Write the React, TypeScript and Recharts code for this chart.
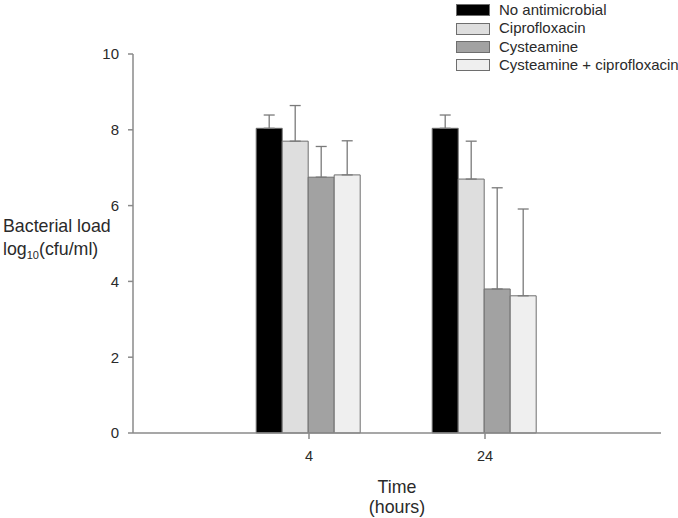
import { Bar, BarChart, ErrorBar, XAxis, YAxis } from 'recharts';

const times = ['4', '24'];
const noAntimicrobial = [8.04, 8.04];
const noAntimicrobialErr = [0.35, 0.35];
const ciprofloxacin = [7.7, 6.7];
const ciprofloxacinErr = [0.94, 1.0];
const cysteamine = [6.75, 3.8];
const cysteamineErr = [0.81, 2.67];
const combo = [6.81, 3.62];
const comboErr = [0.9, 2.29];
const yTicks = [0, 2, 4, 6, 8, 10];

const series = [
  { key: 'none', name: 'No antimicrobial', fill: '#000000' },
  { key: 'cipro', name: 'Ciprofloxacin', fill: '#dedede' },
  { key: 'cyst', name: 'Cysteamine', fill: '#a2a2a2' },
  { key: 'combo', name: 'Cysteamine + ciprofloxacin', fill: '#efefef' },
];

const data = times.map((t, i) => ({
  time: t,
  none: noAntimicrobial[i],
  noneErr: [0, noAntimicrobialErr[i]],
  cipro: ciprofloxacin[i],
  ciproErr: [0, ciprofloxacinErr[i]],
  cyst: cysteamine[i],
  cystErr: [0, cysteamineErr[i]],
  combo: combo[i],
  comboErr: [0, comboErr[i]],
}));

const FONT = '"Liberation Sans", Arial, sans-serif';
const TEXT = '#2a2a2a';
const AXIS = '#8a8a8a';

function YLabel() {
  return (
    <g fontFamily={FONT} fill={TEXT} fontSize={17.8}>
      <text x={3} y={232}>Bacterial load</text>
      <text x={3} y={255}>
        log<tspan fontSize={11} dy={4}>10</tspan>
        <tspan dy={-4}>(cfu/ml)</tspan>
      </text>
    </g>
  );
}

function XLabel() {
  return (
    <g fontFamily={FONT} fill={TEXT} fontSize={17.8} textAnchor="middle">
      <text x={397} y={493}>Time</text>
      <text x={397} y={513}>(hours)</text>
    </g>
  );
}

export default function App() {
  return (
    <div style={{ position: 'absolute', left: 0, top: 0, width: 678, height: 518, background: '#fff' }}>
      <BarChart
        width={678}
        height={518}
        data={data}
        margin={{ top: 54, right: 17, bottom: 0, left: 0 }}
        barCategoryGap="20%"
        barGap={0}
      >
        <XAxis
          dataKey="time"
          height={85}
          padding={{ left: 88, right: 88 }}
          stroke={AXIS}
          strokeWidth={1.5}
          tickSize={6}
          tickMargin={12}
          tick={{ fill: TEXT, fontSize: 14.5, fontFamily: FONT }}
          label={<XLabel />}
        />
        <YAxis
          width={133}
          domain={[0, 10]}
          ticks={yTicks}
          stroke={AXIS}
          strokeWidth={1.5}
          tickSize={5}
          tickMargin={9}
          tick={{ fill: TEXT, fontSize: 15, fontFamily: FONT }}
          label={<YLabel />}
        />
        {series.map((s) => (
          <Bar
            key={s.key}
            dataKey={s.key}
            name={s.name}
            fill={s.fill}
            stroke="#6e6e6e"
            strokeWidth={1}
            isAnimationActive={false}
          >
            <ErrorBar dataKey={`${s.key}Err`} width={5.5} stroke="#7a7a7a" strokeWidth={1.3} />
          </Bar>
        ))}
      </BarChart>
      <div
        style={{
          position: 'absolute',
          left: 456,
          top: 1,
          fontFamily: FONT,
          fontSize: 15,
          color: TEXT,
          lineHeight: '18.4px',
          whiteSpace: 'nowrap',
        }}
      >
        {series.map((s) => (
          <div key={s.key} style={{ display: 'flex', alignItems: 'center' }}>
            <span
              style={{
                display: 'inline-block',
                width: 32,
                height: 10,
                background: s.fill,
                border: '1px solid #6e6e6e',
                marginRight: 9,
              }}
            />
            <span>{s.name}</span>
          </div>
        ))}
      </div>
    </div>
  );
}
